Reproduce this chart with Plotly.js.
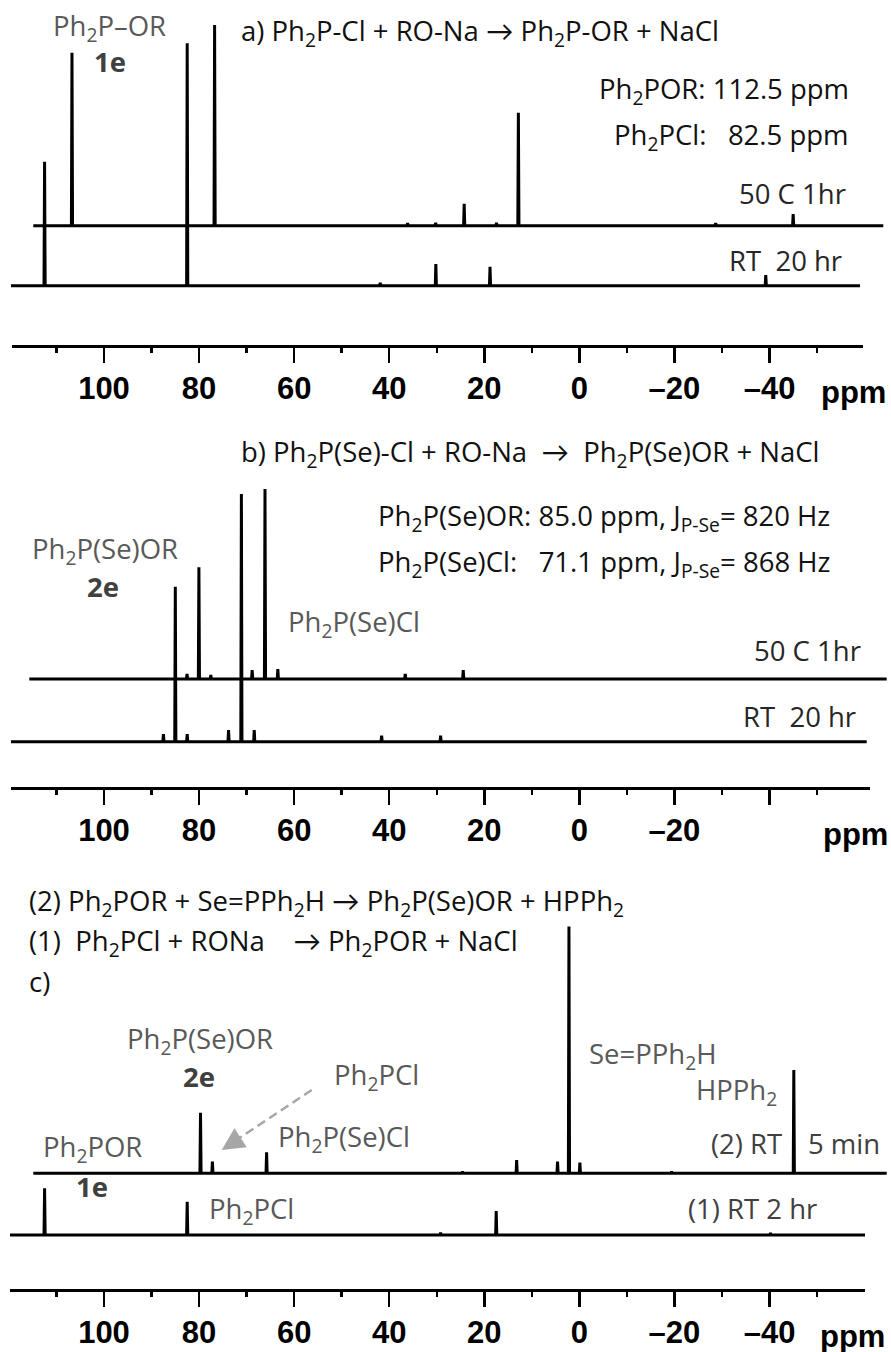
<!DOCTYPE html>
<html>
<head>
<meta charset="utf-8">
<script src="https://cdn.plot.ly/plotly-3.0.1.min.js"></script>
<style>
  html, body { margin: 0; padding: 0; background: #fff; }
  #chart { width: 891px; height: 1352px; }
</style>
</head>
<body>
<div id="chart"></div>
<script>
// 31P NMR peak lists: chemical shift (ppm) and peak intensity (a.u.)
// a) Ph2P-Cl + RO-Na
const aHotShift = [112.5, 82.5, 41.9, 36.0, 30.0, 23.2, 18.6, -22.9, -39.2];
const aHotInt   = [173, 200.7, 2.5, 3, 22, 3, 113, 2.5, 11.7];
const aRtShift  = [112.5, 82.5, 41.9, 30.2, 18.8, -39.2];
const aRtInt    = [124, 242.4, 3, 21.7, 19, 10.7];
// b) Ph2P(Se)-Cl + RO-Na
const bHotShift = [87.5, 85.0, 82.5, 73.8, 71.1, 68.4, 41.6, 29.4];
const bHotInt   = [5, 111.7, 4, 9, 190, 10, 5, 9];
const bRtShift  = [87.5, 85.0, 82.5, 73.8, 71.1, 68.4, 41.6, 29.2];
const bRtInt    = [7.7, 155, 7.7, 11.7, 247.7, 11.7, 6, 6];
// c) one-pot sequence, step (2) after 5 min and step (1) after 2 hr
const cStep2Shift = [85.0, 82.5, 71.1, 29.9, 18.5, 9.9, 7.5, 5.2, -14.1, -39.8];
const cStep2Int   = [60.6, 11.7, 21, 2, 13.3, 11.7, 246.7, 10.7, 2, 103.3];
const cStep1Shift = [112.5, 82.5, 29.2, 17.5, -40.2];
const cStep1Int   = [46.7, 33.3, 2.5, 24, 2];
// spectral window (ppm) and scale ticks
const sweep = [140, -80];
const tickVals = [100, 80, 60, 40, 20, 0, -20, -40];
const tickTextFull = ['100', '80', '60', '40', '20', '0', '\u201320', '\u201340'];
const tickTextB    = ['100', '80', '60', '40', '20', '0', '\u201320', ''];
const minorVals = [110, 90, 70, 50, 30, 10, -10, -30, -50];

const W = 891, H = 1352;
const X0 = 579.4, K = 4.754;   // pixel position of 0 ppm, pixels per ppm
const HALF = 0.12;             // half width of a peak (ppm)
const LABEL_FONT = '"Open Sans", Lato, sans-serif';
const LABEL_SIZE = 27.5;
const ASC = 1.069;             // ascent of the label font (em)
const SCALE_FONT = '"Liberation Sans", Arial, sans-serif';
const GRAY = '#595959', DARK = '#404040', INK = '#111111';

function spectrum(shifts, ints) {
  const order = shifts.map((s, i) => i).sort((a, b) => shifts[b] - shifts[a]);
  const xs = [sweep[0]], ys = [0];
  for (const i of order) {
    xs.push(shifts[i] + HALF, shifts[i], shifts[i] - HALF);
    ys.push(0, ints[i], 0);
  }
  xs.push(sweep[1]); ys.push(0);
  return { xs, ys };
}

function xRange(leftPx, rightPx, shiftPx) {
  return {
    domain: [leftPx / W, rightPx / W],
    range: [(X0 + shiftPx - leftPx) / K, (X0 + shiftPx - rightPx) / K]
  };
}

const panels = [
  { axisY: 346, axisL: 11.7, axisR: 863, ticktext: tickTextFull, ppmX: 853,
    spectra: [
      { shifts: aHotShift, ints: aHotInt, base: 225.7, L: 33.3, R: 883.3, shift: 27.4 },
      { shifts: aRtShift,  ints: aRtInt,  base: 285.7, L: 11,   R: 860,   shift: 0 }
    ] },
  { axisY: 788, axisL: 11, axisR: 870, ticktext: tickTextB, ppmX: 855,
    spectra: [
      { shifts: bHotShift, ints: bHotInt, base: 679,   L: 29.3, R: 886.7, shift: 23.6 },
      { shifts: bRtShift,  ints: bRtInt,  base: 741.7, L: 11,   R: 866.7, shift: 0 }
    ] },
  { axisY: 1290, axisL: 10, axisR: 865, ticktext: tickTextFull, ppmX: 852.5,
    spectra: [
      { shifts: cStep2Shift, ints: cStep2Int, base: 1173.3, L: 33.3, R: 886.7, shift: 25.2 },
      { shifts: cStep1Shift, ints: cStep1Int, base: 1235,   L: 10,   R: 865,   shift: 0 }
    ] }
];

const data = [];
const layout = {
  width: W, height: H,
  margin: { l: 0, r: 0, t: 0, b: 0 },
  paper_bgcolor: '#ffffff', plot_bgcolor: 'rgba(0,0,0,0)',
  showlegend: false,
  annotations: [], shapes: []
};

let nx = 0, ny = 0;
const key = (p, n) => (n === 1 ? p + 'axis' : p + 'axis' + n);
const ref = (p, n) => (n === 1 ? p : p + n);

panels.forEach(panel => {
  let lastY = 0;
  panel.spectra.forEach(sp => {
    nx += 1; ny += 1;
    const { xs, ys } = spectrum(sp.shifts, sp.ints);
    const top = Math.max(...sp.ints);
    const pad = 4;
    layout[key('x', nx)] = Object.assign(xRange(sp.L, sp.R, sp.shift), {
      visible: false, anchor: ref('y', ny), fixedrange: true
    });
    layout[key('y', ny)] = {
      visible: false, anchor: ref('x', nx), fixedrange: true,
      domain: [1 - (sp.base + pad) / H, 1 - (sp.base - top - pad) / H],
      range: [-pad, top + pad]
    };
    data.push({
      type: 'scatter', mode: 'lines', x: xs, y: ys,
      xaxis: ref('x', nx), yaxis: ref('y', ny),
      line: { color: '#000', width: 3 }, hoverinfo: 'skip'
    });
    lastY = ny;
  });
  // printed ppm scale under each panel
  nx += 1;
  layout[key('x', nx)] = Object.assign(xRange(panel.axisL, panel.axisR, 0), {
    anchor: 'free', position: 1 - panel.axisY / H, side: 'bottom',
    showline: true, linewidth: 3, linecolor: '#000',
    showgrid: false, zeroline: false, fixedrange: true,
    ticks: 'outside', ticklen: 15, tickwidth: 2.5, tickcolor: '#000',
    tickmode: 'array', tickvals: tickVals, ticktext: panel.ticktext,
    tickfont: { family: SCALE_FONT, size: 31, color: '#000', weight: 'bold' },
    ticklabelstandoff: -1,
    minor: { tickmode: 'array', tickvals: minorVals, ticks: 'outside',
             ticklen: 5, tickwidth: 2.5, tickcolor: '#000', showgrid: false }
  });
  data.push({ type: 'scatter', mode: 'lines', x: [], y: [],
              xaxis: ref('x', nx), yaxis: ref('y', lastY), hoverinfo: 'skip' });
  layout.annotations.push({
    text: '<b>ppm</b>', xref: 'paper', yref: 'paper',
    x: panel.ppmX / W, y: 1 - (panel.axisY + 55 - 0.905 * 31) / H,
    xanchor: 'center', yanchor: 'top', showarrow: false,
    font: { family: SCALE_FONT, size: 31, color: '#000' }
  });
});

// text placed by its baseline (px from top)
function note(text, x, baseline, anchor, color) {
  layout.annotations.push({
    text, xref: 'paper', yref: 'paper',
    x: x / W, y: 1 - (baseline - ASC * LABEL_SIZE) / H,
    xanchor: anchor, yanchor: 'top', showarrow: false, borderpad: 0,
    font: { family: LABEL_FONT, size: LABEL_SIZE, color }
  });
}
const nb = '\u00a0';

// a)
note('Ph<sub>2</sub>P\u2013OR', 51.7, 35, 'left', GRAY);
note('<b>1e</b>', 109.7, 71.7, 'center', DARK);
note('a) Ph<sub>2</sub>P-Cl + RO-Na \u2192 Ph<sub>2</sub>P-OR + NaCl', 240, 40, 'left', INK);
note('Ph<sub>2</sub>POR: 112.5 ppm', 850, 98.3, 'right', INK);
note('Ph<sub>2</sub>PCl:' + nb + nb + nb + '82.5 ppm', 850, 144, 'right', INK);
note('50 C 1hr', 847.3, 203.3, 'right', '#262626');
note('RT' + nb + nb + '20 hr', 843.3, 270, 'right', '#262626');

// b)
note('b) Ph<sub>2</sub>P(Se)-Cl + RO-Na' + nb + nb + '\u2192' + nb + nb + 'Ph<sub>2</sub>P(Se)OR + NaCl', 240, 461.7, 'left', INK);
note('Ph<sub>2</sub>P(Se)OR: 85.0 ppm, J<sub>P-Se</sub>= 820 Hz', 376.7, 525, 'left', INK);
note('Ph<sub>2</sub>P(Se)Cl:' + nb + nb + nb + '71.1 ppm, J<sub>P-Se</sub>= 868 Hz', 376.7, 571.7, 'left', INK);
note('Ph<sub>2</sub>P(Se)OR', 31, 558.3, 'left', GRAY);
note('<b>2e</b>', 103.3, 596.7, 'center', DARK);
note('Ph<sub>2</sub>P(Se)Cl', 286.7, 631.7, 'left', GRAY);
note('50 C 1hr', 861.7, 660.7, 'right', '#262626');
note('RT' + nb + nb + '20 hr', 856.7, 726, 'right', '#262626');

// c)
note('(2) Ph<sub>2</sub>POR + Se=PPh<sub>2</sub>H \u2192 Ph<sub>2</sub>P(Se)OR + HPPh<sub>2</sub>', 28.3, 910, 'left', INK);
note('(1)' + nb + nb + 'Ph<sub>2</sub>PCl + RONa' + nb + nb + nb + nb + '\u2192 Ph<sub>2</sub>POR + NaCl', 28.3, 950, 'left', INK);
note('c)', 28.3, 991.7, 'left', INK);
note('Ph<sub>2</sub>P(Se)OR', 126, 1048.3, 'left', GRAY);
note('<b>2e</b>', 199, 1086.7, 'center', DARK);
note('Ph<sub>2</sub>PCl', 333.3, 1084, 'left', GRAY);
note('Ph<sub>2</sub>P(Se)Cl', 277.3, 1146.7, 'left', GRAY);
note('Ph<sub>2</sub>POR', 42.3, 1156.7, 'left', GRAY);
note('<b>1e</b>', 91.7, 1196, 'center', DARK);
note('Ph<sub>2</sub>PCl', 208.3, 1218.3, 'left', GRAY);
note('Se=PPh<sub>2</sub>H', 588.3, 1063.3, 'left', GRAY);
note('HPPh<sub>2</sub>', 695, 1099.3, 'left', GRAY);
note('(2) RT', 710, 1153.3, 'left', DARK);
note('5 min', 806.7, 1153.3, 'left', DARK);
note('(1) RT 2 hr', 686.7, 1218.3, 'left', DARK);

// dashed pointer to the Ph2PCl signal in step (2)
layout.shapes.push({
  type: 'line', xref: 'paper', yref: 'paper',
  x0: 311.7 / W, y0: 1 - 1090 / H, x1: 238 / W, y1: 1 - 1139 / H,
  line: { color: '#a6a6a6', width: 2.5, dash: '9px,5px' }
});
layout.annotations.push({
  text: '', xref: 'paper', yref: 'paper',
  x: 221.7 / W, y: 1 - 1150 / H, ax: 20, ay: -13,
  showarrow: true, arrowhead: 2, arrowsize: 1.8, arrowwidth: 2.5, arrowcolor: '#a6a6a6'
});

Plotly.newPlot('chart', data, layout, { staticPlot: true, displayModeBar: false });
</script>
</body>
</html>
